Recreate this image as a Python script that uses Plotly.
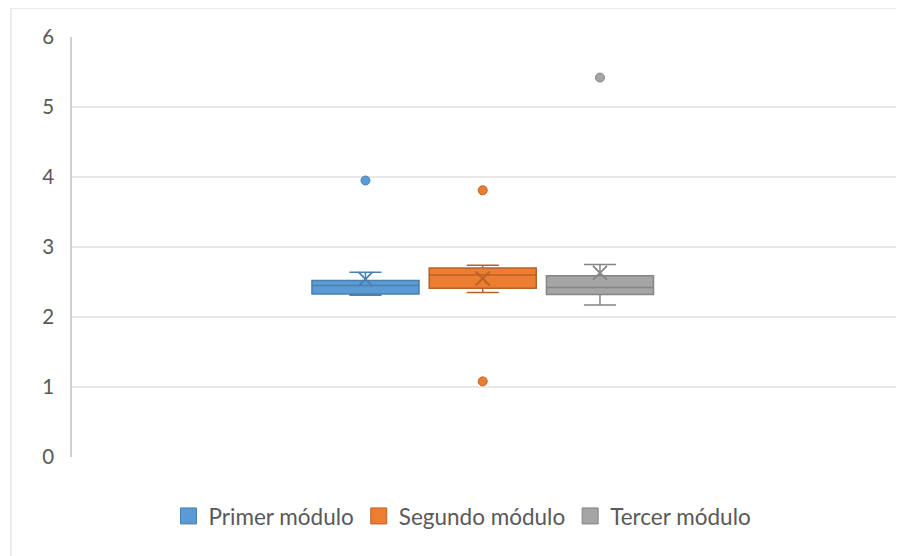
import plotly.graph_objects as go

# ---- data ----
modules = ["Primer módulo", "Segundo módulo", "Tercer módulo"]
q1 = [2.33, 2.41, 2.32]
median = [2.45, 2.60, 2.42]
q3 = [2.52, 2.70, 2.59]
lower = [2.31, 2.35, 2.17]
upper = [2.64, 2.74, 2.75]
means = [2.54, 2.55, 2.63]
outliers = [[3.95], [3.81, 1.08], [5.42]]
y_ticks = [0, 1, 2, 3, 4, 5, 6]

fills = ["#5B9BD5", "#ED7D31", "#A5A5A5"]
edges = ["#4A7FB0", "#B8612A", "#858585"]

FONT = "Lato"
fig = go.Figure()

for i, m in enumerate(modules):
    fig.add_trace(go.Box(
        x=[m], q1=[q1[i]], median=[median[i]], q3=[q3[i]],
        lowerfence=[lower[i]], upperfence=[upper[i]],
        width=0.913, whiskerwidth=0.3,
        fillcolor=fills[i], line=dict(color=edges[i], width=1.5),
        boxpoints=False, showlegend=False, hoverinfo="skip",
    ))
    fig.add_trace(go.Scatter(
        x=[m] * len(outliers[i]), y=outliers[i], mode="markers",
        marker=dict(size=9, color=fills[i], line=dict(color=edges[i], width=1)),
        showlegend=False, hoverinfo="skip",
    ))
    fig.add_trace(go.Scatter(
        x=[m], y=[means[i]], mode="markers",
        marker=dict(symbol="x-thin", size=14, line=dict(color=edges[i], width=1.8)),
        showlegend=False, hoverinfo="skip",
    ))

for i, m in enumerate(modules):
    fig.add_trace(go.Scatter(
        x=[None], y=[None], mode="markers", name=m,
        marker=dict(symbol="square", size=16, color=fills[i], line=dict(color=edges[i], width=1)),
    ))

fig.update_layout(
    width=904, height=548,
    margin=dict(l=64, r=10, t=29, b=99),
    paper_bgcolor="white", plot_bgcolor="white",
    font=dict(family=FONT, size=20.5, color="#595959"),
    legend=dict(orientation="h", x=0.4705, xanchor="center", y=-0.09, yanchor="top",
                font=dict(size=22.5, color="#595959"), itemwidth=30, tracegroupgap=0),
    xaxis=dict(type="category", categoryorder="array", categoryarray=modules,
               range=[-2.503, 4.576], showticklabels=False, showgrid=False,
               zeroline=False, showline=False, ticks=""),
    yaxis=dict(range=[0, 6], tickvals=y_ticks, showgrid=True, gridcolor="#E8E8E8",
               gridwidth=1.5, zeroline=False, showline=True, linecolor="#D0D0D0",
               linewidth=1.5, ticks="", ticklabelstandoff=12),
    shapes=[
        dict(type="line", xref="paper", yref="paper", x0=-0.0735, x1=-0.0735,
             y0=1.069, y1=-0.3, line=dict(color="#D9D9D9", width=1)),
        dict(type="line", xref="paper", yref="paper", x0=-0.0735, x1=1.01,
             y0=1.069, y1=1.069, line=dict(color="#D9D9D9", width=1)),
    ],
)

fig.write_html("out.html")
